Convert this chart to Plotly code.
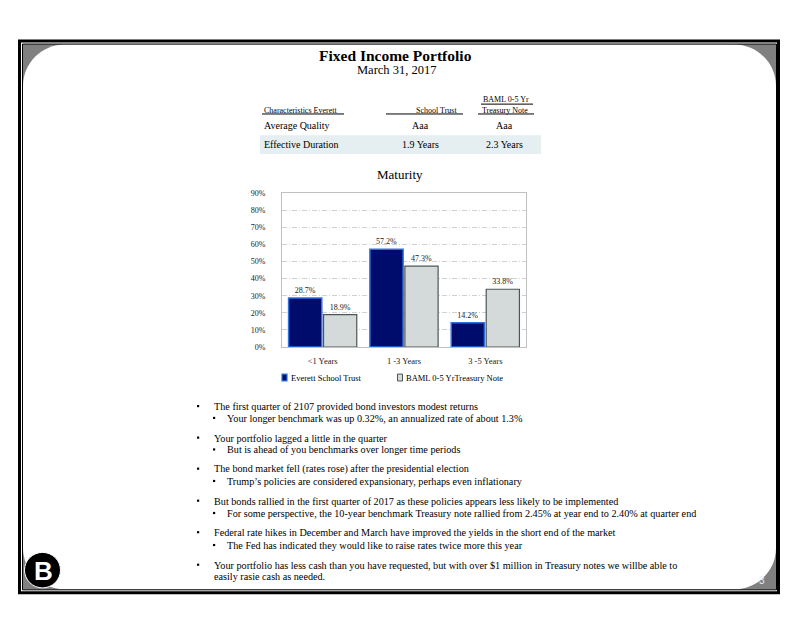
import plotly.graph_objects as go

# The page body has an 8px margin; the figure is placed so that slide pixel
# coordinates line up with the 800x618 window.
OFF = 8
W, H = 800 - OFF, 618 - OFF
FONT = "Liberation Serif, Times New Roman, serif"

# ---------------- data ----------------
categories = ["<1 Years", "1 -3 Years", "3 -5 Years"]
everett_values = [28.7, 57.2, 14.2]
baml_values = [18.9, 47.3, 33.8]
series_names = ["Everett School Trust", "BAML 0-5 YrTreasury Note"]
y_tick_values = [0, 10, 20, 30, 40, 50, 60, 70, 80, 90]
y_tick_labels = [f"{v}%" for v in y_tick_values]

title_text = "Fixed Income Portfolio"
subtitle_text = "March 31, 2017"
chart_title = "Maturity"

table_header = ["Characteristics Everett", "School Trust", "BAML 0-5 Yr", "Treasury Note"]
table_rows = [
    ["Average Quality", "Aaa", "Aaa"],
    ["Effective Duration", "1.9 Years", "2.3 Years"],
]

bullets = [
    (1, "The first quarter of 2107 provided bond investors modest returns"),
    (2, "Your longer benchmark was up 0.32%, an annualized rate of about 1.3%"),
    (1, "Your portfolio lagged a little in the quarter"),
    (2, "But is ahead of you benchmarks over longer time periods"),
    (1, "The bond market fell (rates rose) after the presidential election"),
    (2, "Trump\u2019s policies are considered expansionary, perhaps even inflationary"),
    (1, "But bonds rallied in the first quarter of 2017 as these policies appears less likely to be implemented"),
    (2, "For some perspective, the 10-year benchmark Treasury note rallied from 2.45% at year end to 2.40% at quarter end"),
    (1, "Federal rate hikes in December and March have improved the yields in the short end of the market"),
    (2, "The Fed has indicated they would like to raise rates twice more this year"),
    (1, "Your portfolio has less cash than you have requested, but with over $1 million in Treasury notes we willbe able to"),
    (0, "easily rasie cash as needed."),
]
bullet_y = [408.5, 420.5, 440.5, 452.5, 472, 484.5, 504.5, 517, 536.5, 549.5, 569.5, 581]
page_number = "3"


# ---------------- helpers ----------------
def X(px):
    return (px - OFF) / W


def Y(py):
    return 1 - (py - OFF) / H


NAVY = "#000c6c"
NAVY_EDGE = "#2e72e0"
GRAY = "#d4dada"
GRAY_EDGE = "#4d5656"

fig = go.Figure()
fig.add_trace(go.Bar(
    x=categories, y=everett_values, name=series_names[0],
    marker=dict(color=NAVY, line=dict(color=NAVY_EDGE, width=1.5)),
    texttemplate="%{y:.1f}%", textposition="outside",
    textfont=dict(family=FONT, size=8, color="#222"), cliponaxis=False,
    showlegend=False,
))
fig.add_trace(go.Bar(
    x=categories, y=baml_values, name=series_names[1],
    marker=dict(color=GRAY, line=dict(color=GRAY_EDGE, width=1.2)),
    texttemplate="%{y:.1f}%", textposition="outside",
    textfont=dict(family=FONT, size=8, color="#222"), cliponaxis=False,
    showlegend=False,
))

shapes = []
annotations = []

# ---- slide frame ----
L, T, R, B = 22.5, 40.5, 776.5, 594.5
shapes.append(dict(type="rect", xref="paper", yref="paper", layer="below",
                   x0=X(L), x1=X(R), y0=Y(B), y1=Y(T),
                   fillcolor="#808080", line=dict(width=0)))
r = 42
k = 0.5523 * r
l, t, rr, b = L + 0.5, T + 0.5, R - 0.5, B - 0.5
pts = [
    ("M", [(l + r, t)]),
    ("L", [(rr - r, t)]),
    ("C", [(rr - r + k, t), (rr, t + r - k), (rr, t + r)]),
    ("L", [(rr, b - r)]),
    ("C", [(rr, b - r + k), (rr - r + k, b), (rr - r, b)]),
    ("L", [(l + r, b)]),
    ("C", [(l + r - k, b), (l, b - r + k), (l, b - r)]),
    ("L", [(l, t + r)]),
    ("C", [(l, t + r - k), (l + r - k, t), (l + r, t)]),
]
path = ""
for cmd, ps in pts:
    path += cmd + " ".join(f"{X(px):.5f},{Y(py):.5f}" for px, py in ps) + " "
path += "Z"
shapes.append(dict(type="path", xref="paper", yref="paper", layer="below",
                   path=path, fillcolor="white", line=dict(width=0)))
shapes.append(dict(type="rect", xref="paper", yref="paper", layer="below",
                   x0=X(L), x1=X(R), y0=Y(B), y1=Y(T),
                   line=dict(color="black", width=1)))
shapes.append(dict(type="rect", xref="paper", yref="paper", layer="below",
                   x0=X(19.5), x1=X(778.5), y0=Y(597.5), y1=Y(37.5),
                   line=dict(color="black", width=3)))

# ---- logo ----
shapes.append(dict(type="circle", xref="paper", yref="paper", layer="below",
                   x0=X(24.5), x1=X(60.5), y0=Y(592.5), y1=Y(556.5),
                   fillcolor="black", line=dict(color="white", width=1)))
annotations.append(dict(x=X(43), y=Y(575), xref="paper", yref="paper",
                        text="<b>B</b>", showarrow=False, xanchor="center", yanchor="middle",
                        font=dict(family="Liberation Sans, Arial, sans-serif", size=26, color="white")))
annotations.append(dict(x=X(762), y=Y(585), xref="paper", yref="paper",
                        text=page_number, showarrow=False, xanchor="center", yanchor="middle",
                        font=dict(family="Liberation Sans, Arial, sans-serif", size=10, color="#e4ecf7")))

# ---- titles ----
annotations.append(dict(x=X(395), y=Y(52), xref="paper", yref="paper",
                        text=f"<b>{title_text}</b>", showarrow=False, xanchor="center", yanchor="middle",
                        font=dict(family=FONT, size=15.5, color="black")))
annotations.append(dict(x=X(397), y=Y(67), xref="paper", yref="paper",
                        text=subtitle_text, showarrow=False, xanchor="center", yanchor="middle",
                        font=dict(family=FONT, size=12.5, color="black")))

# ---- table ----
shapes.append(dict(type="rect", xref="paper", yref="paper", layer="below",
                   x0=X(260), x1=X(541), y0=Y(152), y1=Y(133),
                   fillcolor="#e5eef0", line=dict(width=0)))
hdr_font = dict(family=FONT, size=8, color="black")
annotations.append(dict(x=X(262), y=Y(108), xref="paper", yref="paper", text=table_header[0],
                        showarrow=False, xanchor="left", yanchor="middle", font=hdr_font))
annotations.append(dict(x=X(437), y=Y(108), xref="paper", yref="paper", text=table_header[1],
                        showarrow=False, xanchor="center", yanchor="middle", font=hdr_font))
annotations.append(dict(x=X(506), y=Y(97), xref="paper", yref="paper", text=table_header[2],
                        showarrow=False, xanchor="center", yanchor="middle", font=hdr_font))
annotations.append(dict(x=X(505), y=Y(108), xref="paper", yref="paper", text=table_header[3],
                        showarrow=False, xanchor="center", yanchor="middle", font=hdr_font))
for x0, x1, yy in [(262, 344, 111.5), (386, 463, 111.5), (481, 533, 101.5), (478, 534, 111.5)]:
    shapes.append(dict(type="line", xref="paper", yref="paper", layer="below",
                       x0=X(x0), x1=X(x1), y0=Y(yy), y1=Y(yy),
                       line=dict(color="black", width=1)))
row_y = [123.5, 142.5]
for row, yy in zip(table_rows, row_y):
    annotations.append(dict(x=X(262), y=Y(yy), xref="paper", yref="paper", text=row[0],
                            showarrow=False, xanchor="left", yanchor="middle",
                            font=dict(family=FONT, size=10, color="black")))
    annotations.append(dict(x=X(420), y=Y(yy), xref="paper", yref="paper", text=row[1],
                            showarrow=False, xanchor="center", yanchor="middle",
                            font=dict(family=FONT, size=10, color="black")))
    annotations.append(dict(x=X(504), y=Y(yy), xref="paper", yref="paper", text=row[2],
                            showarrow=False, xanchor="center", yanchor="middle",
                            font=dict(family=FONT, size=10, color="black")))

# ---- chart title ----
annotations.append(dict(x=X(399.5), y=Y(172.5), xref="paper", yref="paper",
                        text=chart_title, showarrow=False, xanchor="center", yanchor="middle",
                        font=dict(family=FONT, size=13, color="black")))

# ---- legend (manual) ----
leg = [(282, NAVY, NAVY_EDGE, 1.2), (397.5, GRAY, GRAY_EDGE, 1)]
for (lx, fc, lc, lw), name in zip(leg, series_names):
    shapes.append(dict(type="rect", xref="paper", yref="paper",
                       x0=X(lx), x1=X(lx + 5), y0=Y(382.5), y1=Y(375.5),
                       fillcolor=fc, line=dict(color=lc, width=lw)))
    annotations.append(dict(x=X(lx + 6.5), y=Y(379), xref="paper", yref="paper", text=name,
                            showarrow=False, xanchor="left", yanchor="middle",
                            font=dict(family=FONT, size=8.5, color="black")))

# ---- bullets ----
for (lvl, txt), yy in zip(bullets, bullet_y):
    if lvl == 1:
        bx, tx = 197, 212
    elif lvl == 2:
        bx, tx = 213, 225
    else:
        bx, tx = None, 212
    if bx is not None:
        shapes.append(dict(type="rect", xref="paper", yref="paper",
                           x0=X(bx), x1=X(bx + 2.2), y0=Y(yy + 0.6), y1=Y(yy - 1.6),
                           fillcolor="black", line=dict(width=0)))
    annotations.append(dict(x=X(tx), y=Y(yy), xref="paper", yref="paper", text=txt,
                            showarrow=False, xanchor="left", yanchor="middle",
                            font=dict(family=FONT, size=10.2, color="black")))

fig.update_layout(
    width=W, height=H,
    margin=dict(l=0, r=0, t=0, b=0),
    paper_bgcolor="white",
    plot_bgcolor="rgba(0,0,0,0)",
    barmode="group", bargap=0.14, bargroupgap=0.05,
    showlegend=False,
    shapes=shapes,
    annotations=annotations,
    xaxis=dict(domain=[X(282), X(526)], showline=True, mirror=True,
               linecolor="#c0c0c0", linewidth=1, ticks="",
               tickfont=dict(family=FONT, size=8.5, color="#222"),
               ticklabelstandoff=6, fixedrange=True),
    yaxis=dict(domain=[Y(348), Y(192)], range=[0, 90],
               tickvals=y_tick_values, ticktext=y_tick_labels,
               showline=True, mirror=True, linecolor="#c0c0c0", linewidth=1,
               showgrid=True, gridcolor="#d0d0d0", griddash="5px,2px,1px,2px", gridwidth=1,
               zeroline=False, ticks="",
               tickfont=dict(family=FONT, size=8, color="#222"),
               ticklabelstandoff=14, fixedrange=True),
    font=dict(family=FONT),
)

fig.write_html("out.html")
